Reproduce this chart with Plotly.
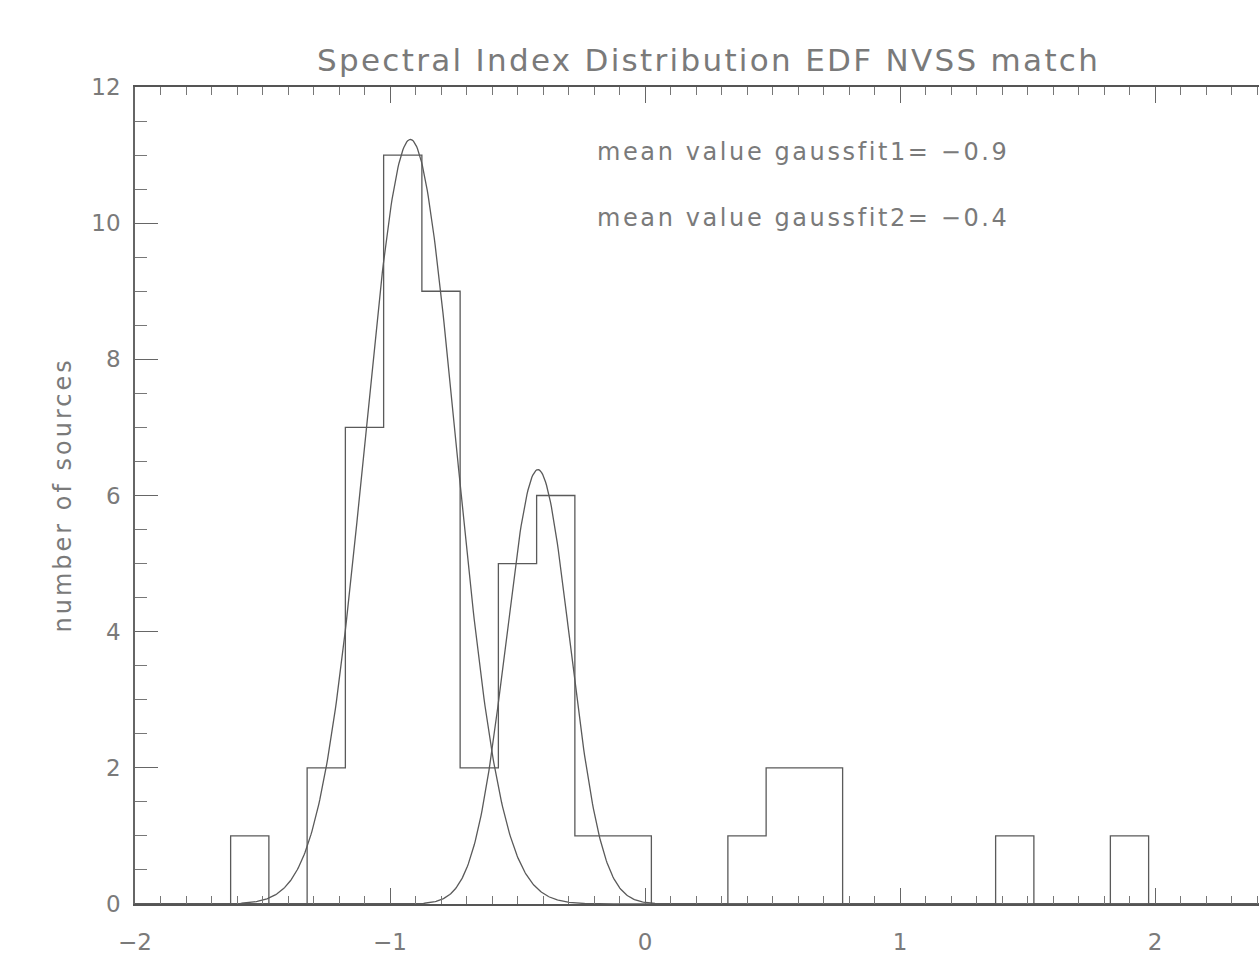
import numpy as np
import plotly.graph_objects as go

# ---- data ----
bin_centers = [-1.55, -1.40, -1.25, -1.10, -0.95, -0.80, -0.65, -0.50, -0.35, -0.20,
               -0.05, 0.10, 0.25, 0.40, 0.55, 0.70, 0.85, 1.00, 1.15, 1.30,
               1.45, 1.60, 1.75, 1.90, 2.05, 2.20, 2.35]
counts = [1, 0, 2, 7, 11, 9, 2, 5, 6, 1,
          1, 0, 0, 1, 2, 2, 0, 0, 0, 0,
          1, 0, 0, 1, 0, 0, 0]
bin_width = 0.15

gauss1 = dict(amp=11.23, mean=-0.92, sigma=0.178)
gauss2 = dict(amp=6.38, mean=-0.42, sigma=0.125)

mean_labels = ["mean value gaussfit1= \u22120.9", "mean value gaussfit2= \u22120.4"]
title_text = "Spectral Index Distribution EDF NVSS match"
ytitle_text = "number of sources"

x_ticks = [-2, -1, 0, 1, 2]
x_ticktext = ["\u22122", "\u22121", "0", "1", "2"]
y_ticks = [0, 2, 4, 6, 8, 10, 12]

# ---- build step outline ----
edges = [c - bin_width / 2 for c in bin_centers]
step_x = [-2.0] + edges + [bin_centers[-1] + bin_width / 2, 2.6]
step_y = [0] + counts + [0, 0]

xg = np.linspace(-2, 2.6, 1201)
def g(p):
    return p["amp"] * np.exp(-0.5 * ((xg - p["mean"]) / p["sigma"]) ** 2)

LINE = "#5a5a5a"
TXT = "#7a7a7a"
FONT = "DejaVu Sans"

fig = go.Figure()
fig.add_trace(go.Scatter(x=step_x, y=step_y, mode="lines", line=dict(color=LINE, width=1.3, shape="hv"),
                         hoverinfo="skip", showlegend=False))
fig.add_trace(go.Scatter(x=xg, y=g(gauss1), mode="lines", line=dict(color=LINE, width=1.3),
                         hoverinfo="skip", showlegend=False))
fig.add_trace(go.Scatter(x=xg, y=g(gauss2), mode="lines", line=dict(color=LINE, width=1.3),
                         hoverinfo="skip", showlegend=False))

px_per_unit = 255.0
x_right = -2 + (1259 - 135) / px_per_unit

fig.update_layout(
    width=1259, height=960,
    margin=dict(l=135, r=0, t=87, b=56),
    paper_bgcolor="white", plot_bgcolor="white",
    font=dict(family=FONT, color=TXT, size=23),
    xaxis=dict(range=[-2, x_right], showgrid=False, zeroline=False,
               showline=True, linecolor="#555", linewidth=1.5, mirror="ticks",
               ticks="inside", ticklen=16, tickwidth=1.3, tickcolor="#666",
               tickvals=x_ticks, ticktext=x_ticktext, ticklabelstandoff=17,
               minor=dict(dtick=0.1, ticks="inside", ticklen=8, tickwidth=1.2, tickcolor="#777", showgrid=False)),
    yaxis=dict(range=[0, 12], showgrid=False, zeroline=False,
               showline=True, linecolor="#666", linewidth=1.5, mirror=False,
               ticks="inside", ticklen=23, tickwidth=1.3, tickcolor="#666",
               tickvals=y_ticks, ticklabelstandoff=8,
               minor=dict(dtick=0.5, ticks="inside", ticklen=12, tickwidth=1.2, tickcolor="#777", showgrid=False)),
)

fig.add_annotation(x=0.25, y=1 + 27 / 817, xref="x", yref="paper", showarrow=False,
                   text=f'<span style="letter-spacing:2.3px">{title_text}</span>',
                   font=dict(size=31, color=TXT, family=FONT), xanchor="center", yanchor="middle")
for lbl, yv in zip(mean_labels, [11.05, 10.07]):
    fig.add_annotation(x=-0.196, y=yv, xref="x", yref="y", showarrow=False,
                       text=f'<span style="letter-spacing:2.6px">{lbl}</span>',
                       font=dict(size=24, color=TXT, family=FONT), xanchor="left", yanchor="middle")
fig.add_annotation(x=0, y=0.5, xref="paper", yref="paper", xshift=-73, showarrow=False,
                   text=f'<span style="letter-spacing:3px">{ytitle_text}</span>', textangle=-90,
                   font=dict(size=24, color=TXT, family=FONT), xanchor="center", yanchor="middle")

fig.write_html("out.html")
